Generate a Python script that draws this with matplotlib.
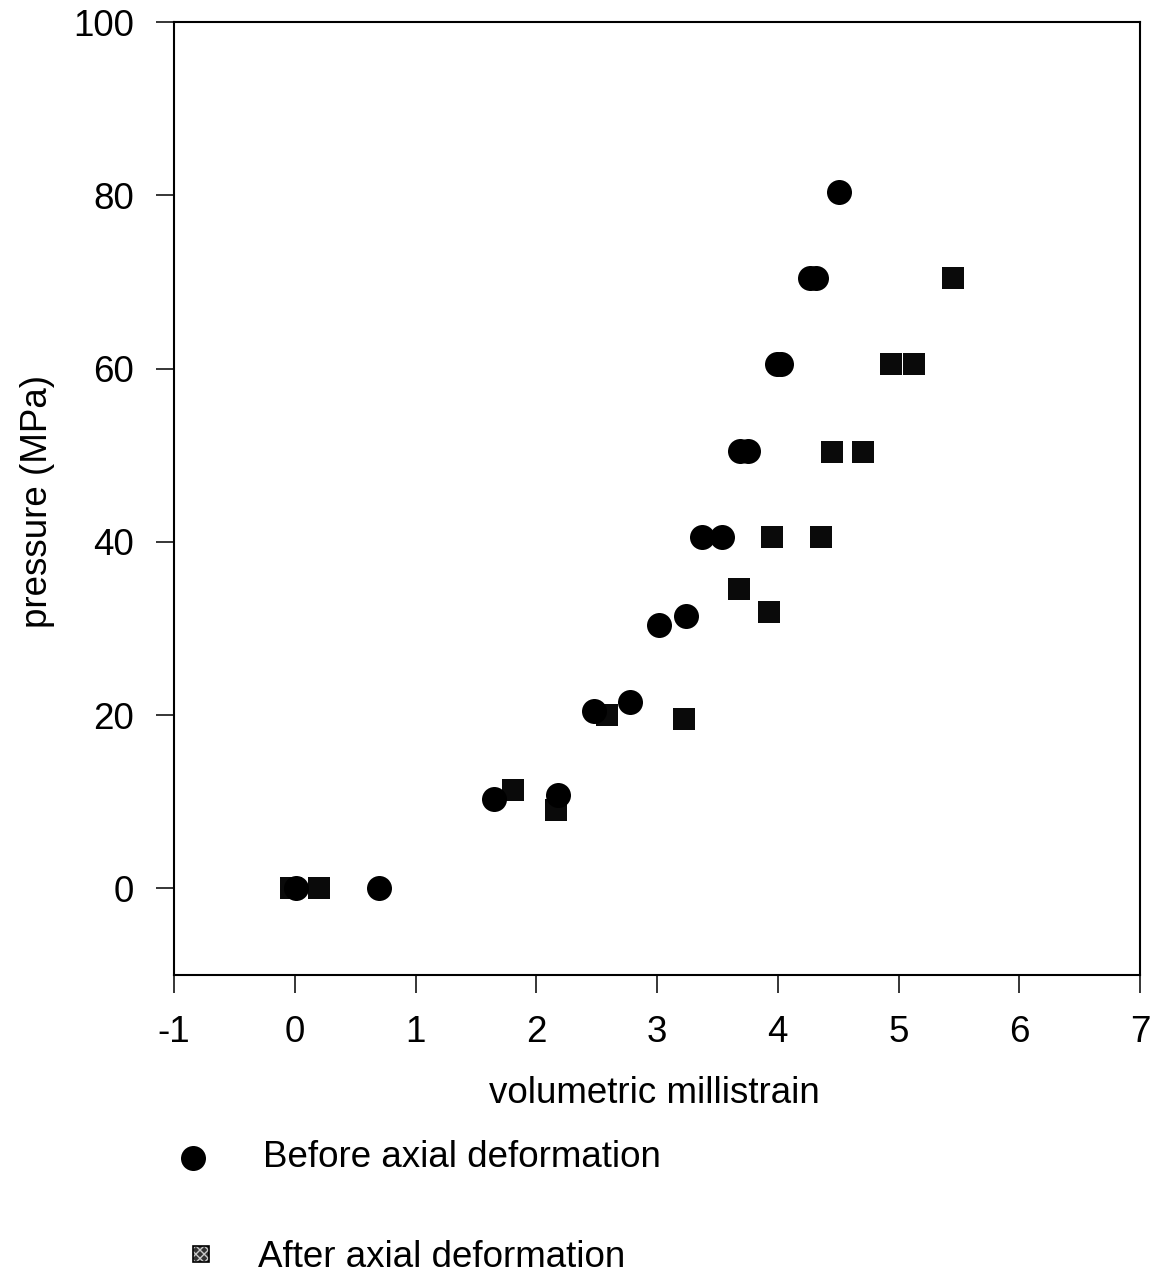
import matplotlib
matplotlib.use('Agg')
import matplotlib.pyplot as plt
from matplotlib.lines import Line2D
from matplotlib.patches import Rectangle

plt.rcParams['font.family'] = ['Liberation Sans', 'DejaVu Sans']
plt.rcParams['axes.unicode_minus'] = False

# volumetric strain (millistrain) vs confining pressure (MPa)
before_strain = [0.01, 0.70, 1.65, 2.18, 2.48, 2.78, 3.02, 3.24, 3.37, 3.54,
                 3.69, 3.75, 3.99, 4.03, 4.27, 4.32, 4.51]
before_pressure = [0, 0, 10.3, 10.8, 20.5, 21.5, 30.4, 31.4, 40.5, 40.5,
                   50.5, 50.5, 60.5, 60.5, 70.5, 70.5, 80.4]

after_strain = [-0.03, 0.20, 1.81, 2.16, 2.59, 3.22, 3.68, 3.93, 3.95, 4.36,
                4.45, 4.71, 4.94, 5.13, 5.45]
after_pressure = [0, 0, 11.3, 9.0, 20.0, 19.5, 34.5, 31.9, 40.5, 40.5,
                  50.4, 50.4, 60.5, 60.5, 70.5]

W, H = 1154, 1274
FS = 26.5
fig = plt.figure(figsize=(W / 100, H / 100), dpi=100)
ax = fig.add_axes([174 / W, 1 - 975 / H, (1140 - 174) / W, (975 - 22) / H])

ax.scatter(after_strain, after_pressure, marker='s', s=16 ** 2,
           color='#0a0a0a', linewidths=0, zorder=3)
ax.scatter(before_strain, before_pressure, marker='o', s=18 ** 2,
           color='black', linewidths=0, zorder=4)

ax.set_xlim(-1, 7)
ax.set_ylim(-10, 100)
ax.set_xticks(range(-1, 8))
ax.set_yticks(range(0, 101, 20))

for sp in ax.spines.values():
    sp.set_linewidth(1.5)
ax.tick_params(axis='both', direction='out', length=13, width=1.1,
               labelsize=FS, pad=16)

fig.text(38 / W, 1 - 501 / H, 'pressure (MPa)', rotation=90,
         ha='center', va='center', fontsize=FS)
fig.text(654 / W, 1 - 1103 / H, 'volumetric millistrain',
         ha='center', va='baseline', fontsize=FS)

# legend under the plot
fig.add_artist(Line2D([193 / W], [1 - 1158 / H], marker='o', markersize=18,
                      color='black', markeredgewidth=0,
                      transform=fig.transFigure))
fig.text(263 / W, 1 - 1167 / H, 'Before axial deformation',
         ha='left', va='baseline', fontsize=FS)

sq = 16
fig.add_artist(Rectangle((193 / W, 1 - 1262 / H), sq / W, sq / H,
                         facecolor='#333333', edgecolor='#c8c8c8',
                         hatch='xxxx', linewidth=0,
                         transform=fig.transFigure))
fig.add_artist(Rectangle((193 / W, 1 - 1262 / H), sq / W, sq / H,
                         facecolor='none', edgecolor='black',
                         linewidth=1.2, transform=fig.transFigure))
fig.text(258 / W, 1 - 1267 / H, 'After axial deformation',
         ha='left', va='baseline', fontsize=FS)

fig.savefig('out.png', dpi=100)
